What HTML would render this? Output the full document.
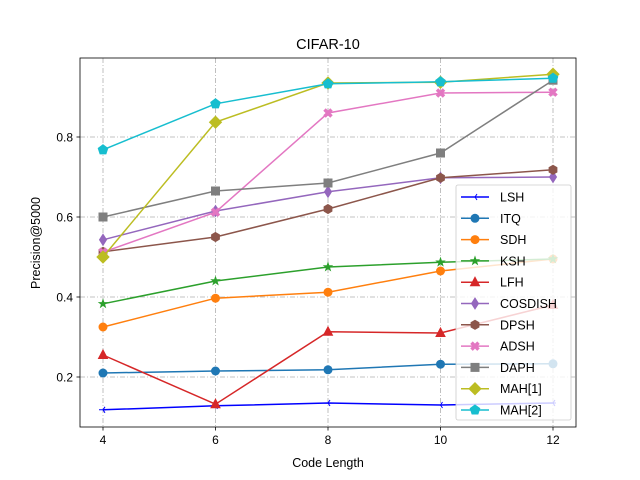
<!DOCTYPE html>
<html><head><meta charset="utf-8"><style>
body{margin:0;background:#fff}
svg{display:block;font-family:"Liberation Sans","DejaVu Sans",sans-serif}
</style></head><body>
<svg id="chart" width="640" height="480" viewBox="0 0 640 480" xmlns="http://www.w3.org/2000/svg">
<rect x="0" y="0" width="640" height="480" fill="#fff"/>
<text x="328" y="49" font-size="14.5" text-anchor="middle">CIFAR-10</text>
<text x="328" y="467" font-size="12.5" text-anchor="middle">Code Length</text>
<text transform="translate(40,243) rotate(-90)" font-size="12.5" text-anchor="middle">Precision@5000</text>
<g id="grid"></g><g id="series"></g><g id="axes"></g><g id="legend"></g>
</svg>
<script>
const categories=[4,6,8,10,12];
const yTicks=[0.2,0.4,0.6,0.8];
const yTickLabels=["0.2","0.4","0.6","0.8"];
const names=["LSH","ITQ","SDH","KSH","LFH","COSDISH","DPSH","ADSH","DAPH","MAH[1]","MAH[2]"];
const colors=["#0000ff","#1f77b4","#ff7f0e","#2ca02c","#d62728","#9467bd","#8c564b","#e377c2","#7f7f7f","#bcbd22","#17becf"];
const markers=["tri_left","circle","circle","star","triangle","thin_diamond","hexagon","x","square","diamond","pentagon"];
const LSH=[0.118,0.128,0.135,0.13,0.135];
const ITQ=[0.21,0.215,0.218,0.232,0.233];
const SDH=[0.325,0.397,0.412,0.465,0.495];
const KSH=[0.383,0.44,0.475,0.487,0.495];
const LFH=[0.255,0.132,0.313,0.31,0.38];
const COSDISH=[0.543,0.615,0.663,0.698,0.70];
const DPSH=[0.513,0.55,0.62,0.698,0.718];
const ADSH=[0.512,0.612,0.86,0.91,0.912];
const DAPH=[0.6,0.665,0.685,0.76,0.942];
const MAH1=[0.5,0.837,0.935,0.937,0.957];
const MAH2=[0.768,0.883,0.933,0.938,0.947];
const seriesValues=[LSH,ITQ,SDH,KSH,LFH,COSDISH,DPSH,ADSH,DAPH,MAH1,MAH2];
const NS="http://www.w3.org/2000/svg";
const L=80,R=576,T=58,B=427;
const xs=v=>103+(v-4)*(553-103)/8;
const ys=v=>457-v*400;
function mk(tag,attrs,parent){const e=document.createElementNS(NS,tag);for(const k in attrs)e.setAttribute(k,attrs[k]);parent.appendChild(e);return e;}
const grid=document.getElementById('grid'),axes=document.getElementById('axes'),ser=document.getElementById('series'),leg=document.getElementById('legend');
categories.forEach(c=>{const x=xs(c);
 const g=mk('line',{x1:x,x2:x,y1:T,y2:B,stroke:'#b0b0b0','stroke-width':0.8,'stroke-dasharray':'5 2 1 2'},grid);
 
 
 mk('line',{x1:x,x2:x,y1:B,y2:B+3.5,stroke:'#000','stroke-width':0.8},axes);
 const t=mk('text',{x:x,y:B+17,'font-size':12,'text-anchor':'middle'},axes);t.textContent=c;
 
 
});
yTicks.forEach((v,i)=>{const y=ys(v);
 const g=mk('line',{x1:L,x2:R,y1:y,y2:y,stroke:'#b0b0b0','stroke-width':0.8,'stroke-dasharray':'5 2 1 2'},grid);
 
 
 mk('line',{x1:L-3.5,x2:L,y1:y,y2:y,stroke:'#000','stroke-width':0.8},axes);
 const t=mk('text',{x:L-7,y:y+4.5,'font-size':12,'text-anchor':'end'},axes);t.textContent=yTickLabels[i];
 
 
});
const frame=mk('rect',{x:L,y:T,width:R-L,height:B-T,fill:'none',stroke:'#000','stroke-width':0.8},axes);


function marker(type,x,y,color,parent){
 let e;
 const poly=(pts)=>mk('polygon',{points:pts.map(p=>(x+p[0])+','+(y+p[1])).join(' '),fill:color,stroke:color,'stroke-width':1},parent);
 switch(type){
 case 'circle':e=mk('circle',{cx:x,cy:y,r:4.5,fill:color},parent);break;
 case 'square':e=mk('rect',{x:x-4.5,y:y-4.5,width:9,height:9,fill:color},parent);break;
 case 'triangle':e=poly([[0,-5],[4.5,3.5],[-4.5,3.5]]);break;
 case 'tri_left':e=mk('path',{d:`M${x-4},${y}L${x+3},${y}M${x},${y}L${x+2},${y-3}M${x},${y}L${x+2},${y+3}`,stroke:color,'stroke-width':1,fill:'none'},parent);break;
 case 'diamond':e=poly([[0,-6],[6,0],[0,6],[-6,0]]);break;
 case 'thin_diamond':e=poly([[0,-5.5],[3.5,0],[0,5.5],[-3.5,0]]);break;
 case 'hexagon':{const p=[];for(let i=0;i<6;i++){const a=Math.PI/3*i-Math.PI/2;p.push([4.5*Math.cos(a),4.5*Math.sin(a)]);}e=poly(p);break;}
 case 'pentagon':{const p=[];for(let i=0;i<5;i++){const a=2*Math.PI/5*i-Math.PI/2;p.push([5*Math.cos(a),5*Math.sin(a)]);}e=poly(p);break;}
 case 'star':{const p=[];for(let i=0;i<10;i++){const a=Math.PI/5*i-Math.PI/2,r=i%2?1.6:4;p.push([r*Math.cos(a),r*Math.sin(a)]);}e=poly(p);break;}
 case 'x':e=mk('path',{d:`M${x-3.5},${y-3.5}L${x+3.5},${y+3.5}M${x+3.5},${y-3.5}L${x-3.5},${y+3.5}`,stroke:color,'stroke-width':3.5,fill:'none'},parent);break;
 }
 return e;
}
seriesValues.forEach((vals,si)=>{
 const g=mk('g',{},ser);
 
 
 const l=mk('polyline',{points:vals.map((v,i)=>xs(categories[i])+','+ys(v)).join(' '),fill:'none',stroke:colors[si],'stroke-width':1.5},g);
 
 
 vals.forEach((v,i)=>{const m=marker(markers[si],xs(categories[i]),ys(v),colors[si],g);
  
  });
});
const box=mk('rect',{x:456,y:185,width:115,height:235,rx:2,fill:'#fff','fill-opacity':0.8,stroke:'#ccc','stroke-width':0.8},leg);


names.forEach((n,i)=>{const y=197+i*21.3;
 const g=mk('g',{},leg);
 
 
 mk('line',{x1:461,x2:489,y1:y,y2:y,stroke:colors[i],'stroke-width':1.5},g);
 marker(markers[i],475,y,colors[i],g);
 const t=mk('text',{x:500,y:y+4.5,'font-size':12.5},g);t.textContent=n;
});
</script>
</body></html>
